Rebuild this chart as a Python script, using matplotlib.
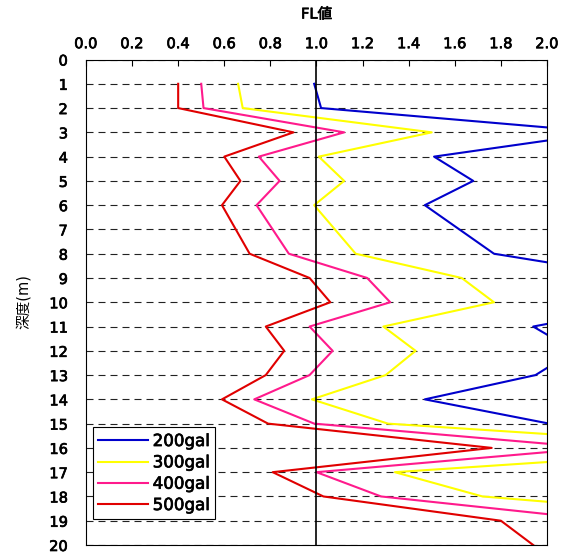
import numpy as np
import matplotlib
matplotlib.use('Agg')
import matplotlib.pyplot as plt
import matplotlib.patheffects as pe

plt.rcParams['font.family'] = ['DejaVu Sans', 'Noto Sans CJK JP']

# depth (m) and FL values for each acceleration (values > 2.0 run off the chart)
depth = [1, 2, 3, 4, 5, 6, 7, 8, 9, 10, 11, 12, 13, 14, 15, 16, 17, 18, 19, 20]
fl_200 = [0.99, 1.02, 2.25, 1.51, 1.68, 1.47, 1.62, 1.77, 2.42, 2.50,
          1.94, 2.12, 1.95, 1.47, 2.01, 2.60, 2.40, 2.80, 3.00, 3.00]
fl_300 = [0.66, 0.68, 1.50, 1.01, 1.12, 0.99, 1.08, 1.17, 1.63, 1.77,
          1.29, 1.43, 1.30, 0.98, 1.31, 2.92, 1.34, 1.72, 3.00, 3.00]
fl_400 = [0.50, 0.51, 1.12, 0.75, 0.84, 0.74, 0.81, 0.88, 1.22, 1.32,
          0.97, 1.07, 0.97, 0.73, 0.99, 2.21, 1.00, 1.28, 2.27, 2.50]
fl_500 = [0.40, 0.40, 0.90, 0.60, 0.67, 0.59, 0.65, 0.71, 0.97, 1.06,
          0.78, 0.86, 0.78, 0.59, 0.79, 1.76, 0.81, 1.03, 1.80, 1.94]
labels = ['200gal', '300gal', '400gal', '500gal']
colors = ['#0000cc', '#ffff00', '#ff1a8c', '#e00000']

thick = [pe.withStroke(linewidth=0.5, foreground='black')]

fig = plt.figure(figsize=(5.72, 5.54), dpi=100)
ax = fig.add_axes([0.1503, 0.01625, 0.806, 0.8763])

for vals, lab, col in zip([fl_200, fl_300, fl_400, fl_500], labels, colors):
    ax.plot(vals, depth, color=col, lw=1.5, label=lab)

ax.axvline(1.0, color='black', lw=1.2, zorder=3)

ax.set_xlim(0, 2.0)
ax.set_ylim(20, 0)
ax.set_xticks(np.arange(0, 2.01, 0.2))
ax.set_xticklabels(['%.1f' % v for v in np.arange(0, 2.01, 0.2)])
ax.set_yticks(range(0, 21))
ax.xaxis.tick_top()
ax.tick_params(axis='x', direction='in', length=4.5, width=0.8, pad=6, labelsize=10.5)
ax.tick_params(axis='y', length=0, pad=13, labelsize=10.5)
for t in ax.get_xticklabels() + ax.get_yticklabels():
    t.set_path_effects(thick)
ax.yaxis.grid(True, color='#222222', lw=0.8, linestyle=(0, (6.3, 4.5)))
for s in ax.spines.values():
    s.set_linewidth(0.8)

fig.text(0.5533, 1 - 14 / 554, 'FL値', ha='center', va='center', fontsize=10.5,
         path_effects=thick)
fig.text(23 / 572, 1 - 302 / 554, '深度(m)', ha='center', va='center',
         rotation=90, fontsize=10.5)

leg = ax.legend(loc='upper left', bbox_to_anchor=(0.0145, 0.243), borderaxespad=0,
                fontsize=12, handlelength=3.0, handletextpad=0.3,
                labelspacing=0.2, borderpad=0.3, fancybox=False, framealpha=1)
leg.get_frame().set_edgecolor('black')
leg.get_frame().set_linewidth(0.8)
for t in leg.get_texts():
    t.set_path_effects(thick)

plt.savefig('out.png', dpi=100)
